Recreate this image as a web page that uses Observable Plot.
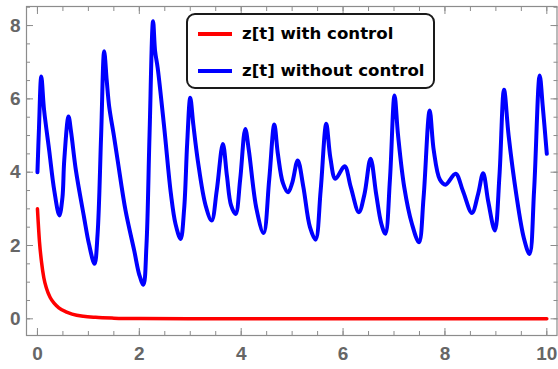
<!DOCTYPE html>
<html>
<head>
<meta charset="utf-8">
<script src="https://cdn.jsdelivr.net/npm/d3@7"></script>
<script src="https://cdn.jsdelivr.net/npm/@observablehq/plot@0.6"></script>
<style>
  html, body { margin: 0; padding: 0; background: white; }
  #wrap { position: relative; width: 558px; height: 369px; }
  #legend { position: absolute; left: 186px; top: 13px; width: 245px; height: 72px;
    border: 2px solid #1a1a1a; border-radius: 9px; background: white; box-sizing: content-box; }
  .sw { position: absolute; left: 10px; width: 34px; height: 4px; }
  .lbl { position: absolute; left: 54px; white-space: nowrap;
    font-family: "DejaVu Sans", sans-serif; font-weight: bold; font-size: 16.6px; color: #000; }
</style>
</head>
<body>
<div id="wrap"></div>
<script>
// z[t] without control (blue)
const tBlue = [0.00,0.03,0.075,0.13,0.23,0.33,0.43,0.49,0.526,0.61,0.66,0.755,0.915,1.01,1.12,1.18,1.25,1.31,1.36,1.41,1.5,1.575,1.73,1.9,2.0,2.08,2.14,2.2,2.27,2.31,2.36,2.49,2.62,2.71,2.81,2.88,2.94,3.0,3.06,3.15,3.3,3.42,3.52,3.64,3.72,3.8,3.89,3.98,4.08,4.15,4.3,4.44,4.55,4.65,4.72,4.82,4.92,5.0,5.11,5.22,5.35,5.46,5.56,5.67,5.75,5.85,6.03,6.15,6.31,6.42,6.54,6.65,6.75,6.83,6.92,7.01,7.08,7.2,7.35,7.49,7.58,7.70,7.78,7.9,8.01,8.21,8.35,8.53,8.65,8.75,8.85,8.98,9.07,9.16,9.25,9.4,9.55,9.66,9.75,9.86,9.92,10.0];
const zBlue = [4.0,5.2,6.61,5.7,4.6,3.5,2.82,3.3,4.32,5.52,5.1,4.05,2.77,2.05,1.5,2.3,5.0,7.3,6.5,5.77,5.0,4.32,2.95,1.86,1.2,0.93,2.0,5.0,8.12,7.3,6.85,5.2,3.41,2.59,2.18,3.0,4.8,6.03,5.3,4.3,3.1,2.68,3.5,4.77,3.9,3.1,2.86,3.8,5.18,4.6,3.0,2.34,3.8,5.3,4.5,3.7,3.45,3.7,4.32,3.6,2.5,2.16,3.5,5.32,4.4,3.82,4.16,3.6,2.91,3.4,4.37,3.4,2.6,2.32,3.8,6.09,5.0,3.6,2.6,2.09,3.3,5.68,4.6,3.8,3.66,3.96,3.5,2.89,3.4,3.97,3.2,2.41,3.9,6.25,5.0,3.4,2.2,1.77,3.5,6.64,5.8,4.5];
// z[t] with control (red)
const tRed = [0,0.04,0.08,0.125,0.18,0.25,0.33,0.42,0.56,0.68,0.9,1.14,1.5,2,3,10];
const zRed = [3.0,2.1,1.55,1.12,0.82,0.58,0.42,0.3,0.19,0.13,0.07,0.04,0.018,0.006,0,0];
// ticks
const xMajor = [0,2,4,6,8,10];
const xMinor = [0,0.5,1,1.5,2,2.5,3,3.5,4,4.5,5,5.5,6,6.5,7,7.5,8,8.5,9,9.5,10];
const yMajor = [0,2,4,6,8];
const yMinor = [0,0.5,1,1.5,2,2.5,3,3.5,4,4.5,5,5.5,6,6.5,7,7.5,8,8.5];
const seriesNames = ["z[t] with control", "z[t] without control"];
const seriesColors = ["#ff0000", "#0000ff"];

const blue = tBlue.map((t, i) => ({t, z: zBlue[i]}));
const red = tRed.map((t, i) => ({t, z: zRed[i]}));

const frameColor = "#8c8c8c";
const labelStyle = {fill: "#666666", fontSize: 19, fontWeight: "bold", stroke: "none"};

const chart = Plot.plot({
  width: 558, height: 369,
  marginLeft: 26, marginRight: 1.5, marginTop: 6, marginBottom: 34,
  x: {domain: [-0.215, 10.2]},
  y: {domain: [-0.455, 8.52]},
  style: {background: "white", fontFamily: "Liberation Sans, Arial, sans-serif", overflow: "visible"},
  marks: [
    Plot.line(blue, {x: "t", y: "z", stroke: seriesColors[1], strokeWidth: 4, curve: "catmull-rom"}),
    Plot.line(red, {x: "t", y: "z", stroke: seriesColors[0], strokeWidth: 3.5, curve: "monotone-x"}),
    Plot.frame({stroke: frameColor, strokeWidth: 1.2}),
    Plot.axisX({ticks: xMinor, tickSize: -4, fill: "none", stroke: frameColor, label: null}),
    Plot.axisX({ticks: xMajor, tickSize: -7, fill: "none", stroke: frameColor, label: null}),
    Plot.axisX({anchor: "top", ticks: xMinor, tickSize: -4, fill: "none", stroke: frameColor, label: null}),
    Plot.axisX({anchor: "top", ticks: xMajor, tickSize: -7, fill: "none", stroke: frameColor, label: null}),
    Plot.axisY({ticks: yMinor, tickSize: -4, fill: "none", stroke: frameColor, label: null}),
    Plot.axisY({ticks: yMajor, tickSize: -7, fill: "none", stroke: frameColor, label: null}),
    Plot.axisY({anchor: "right", ticks: yMinor, tickSize: -4, fill: "none", stroke: frameColor, label: null}),
    Plot.axisY({anchor: "right", ticks: yMajor, tickSize: -7, fill: "none", stroke: frameColor, label: null}),
    Plot.axisX({ticks: xMajor, tickSize: 0, tickPadding: 11, label: null, ...labelStyle}),
    Plot.axisY({ticks: yMajor, tickSize: 0, tickPadding: 6, label: null, ...labelStyle})
  ]
});

const wrap = document.getElementById("wrap");
wrap.appendChild(chart);

const legend = document.createElement("div");
legend.id = "legend";
const centers = [19, 56];
seriesNames.forEach((name, i) => {
  const sw = document.createElement("div");
  sw.className = "sw";
  sw.style.top = (centers[i] - 2) + "px";
  sw.style.background = seriesColors[i];
  legend.appendChild(sw);
  const lbl = document.createElement("div");
  lbl.className = "lbl";
  lbl.style.top = (centers[i] - 11) + "px";
  lbl.style.lineHeight = "22px";
  lbl.textContent = name;
  legend.appendChild(lbl);
});
wrap.appendChild(legend);
</script>
</body>
</html>
